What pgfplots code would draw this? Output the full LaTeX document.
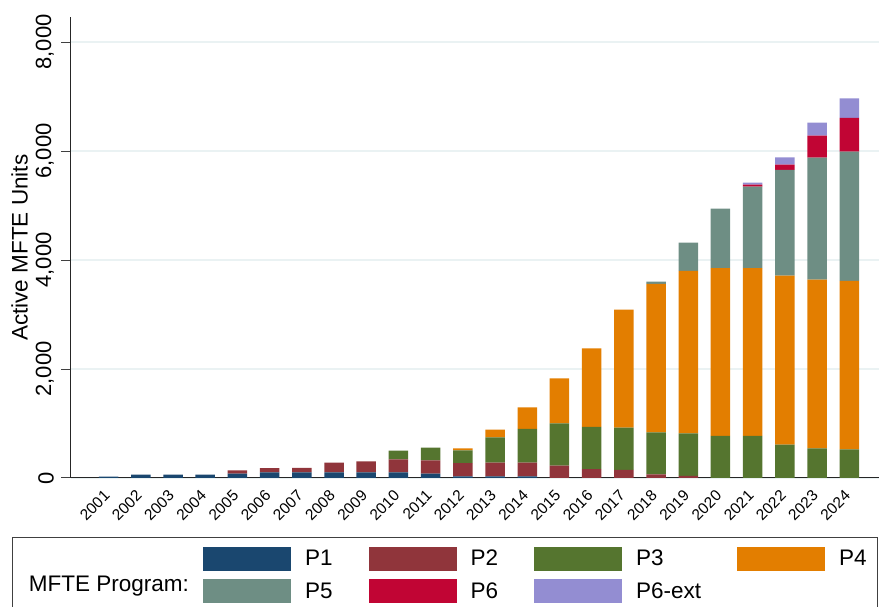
\documentclass[border=0pt]{standalone}
\usepackage{fontspec}
\setmainfont{Liberation Sans}
\usepackage{pgfplots}
\usepackage{pgfplotstable}
\pgfplotsset{compat=1.18}
\definecolor{cP1}{HTML}{1A476F}
\definecolor{cP2}{HTML}{90353B}
\definecolor{cP3}{HTML}{55752F}
\definecolor{cP4}{HTML}{E37E00}
\definecolor{cP5}{HTML}{6E8E84}
\definecolor{cP6}{HTML}{C10534}
\definecolor{cP7}{HTML}{938DD2}
\definecolor{gridc}{HTML}{EAF2F3}
\pgfplotstableread{
year P1 P2 P3 P4 P5 P6 P6ext
2001 25 0 0 0 0 0 0
2002 60 0 0 0 0 0 0
2003 60 0 0 0 0 0 0
2004 60 0 0 0 0 0 0
2005 80 60 0 0 0 0 0
2006 105 75 0 0 0 0 0
2007 105 80 0 0 0 0 0
2008 105 178 0 0 0 0 0
2009 105 200 0 0 0 0 0
2010 105 238 160 0 0 0 0
2011 80 245 233 0 0 0 0
2012 31 244 233 37 0 0 0
2013 30 250 466 141 0 0 0
2014 30 250 620 397 0 0 0
2015 0 227 777 826 0 0 0
2016 0 165 771 1444 0 0 0
2017 0 147 778 2165 0 0 0
2018 0 68 771 2721 44 0 0
2019 0 37 783 2980 520 0 0
2020 0 0 771 3082 1090 0 0
2021 0 0 771 3082 1494 37 37
2022 0 0 613 3101 1938 97 136
2023 0 0 545 3096 2238 404 239
2024 0 0 527 3088 2375 616 361
}\mfte
\begin{document}
\begin{tikzpicture}
\path[use as bounding box] (0pt,0pt) rectangle (879pt,607pt);
\begin{axis}[
  at={(71pt,129pt)}, anchor=south west,
  scale only axis, width=808pt, height=460.5pt,
  ybar stacked, bar width=19.5pt,
  xmin=1999.832, xmax=2024.922,
  ymin=0, ymax=8450,
  axis lines=left,
  axis line style={-, line width=1pt, color=black!85},
  xtick={2001,...,2024},
  ytick={0,2000,4000,6000,8000},
  ymajorgrids, grid style={color=gridc, line width=1.5pt},
  tick align=outside, major tick length=10pt,
  xtick style={draw=none},
  ytick style={line width=1pt, color=black!75},
  /pgf/number format/assume math mode=true,
  xticklabel style={xshift=-1.6pt, yshift=-4.9pt, rotate=45, anchor=east, inner sep=0pt,
    font=\fontsize{15.5}{17}\selectfont, /pgf/number format/1000 sep={}},
  yticklabel style={xshift=-7pt, rotate=90, anchor=south, inner sep=0pt,
    font=\fontsize{22}{24}\selectfont},
  ylabel={Active MFTE Units},
  ylabel style={at={(axis description cs:-0.0637,0.5)}, anchor=center,
    font=\fontsize{22.5}{24}\selectfont},
  legend columns=4,
  legend cell align=left,
  legend image code/.code={\fill[#1] (0pt,-12pt) rectangle (88pt,12pt);},
  legend style={draw=none, fill=none, inner sep=0pt, outer sep=0pt,
    at={(axis description cs:0.16337,-0.14918)}, anchor=north west,
    font=\fontsize{22.5}{24}\selectfont, row sep=8.6pt,
    nodes={inner sep=0pt},
    /tikz/every odd column/.append style={column sep=14pt},
    /tikz/every even column/.append style={column sep=36pt}},
]
\addplot[fill=cP1, draw=none] table[x=year, y=P1]{\mfte};
\addlegendentry{P1}
\addplot[fill=cP2, draw=none] table[x=year, y=P2]{\mfte};
\addlegendentry{P2}
\addplot[fill=cP3, draw=none] table[x=year, y=P3]{\mfte};
\addlegendentry{P3}
\addplot[fill=cP4, draw=none] table[x=year, y=P4]{\mfte};
\addlegendentry{P4}
\addplot[fill=cP5, draw=none] table[x=year, y=P5]{\mfte};
\addlegendentry{P5}
\addplot[fill=cP6, draw=none] table[x=year, y=P6]{\mfte};
\addlegendentry{P6}
\addplot[fill=cP7, draw=none] table[x=year, y=P6ext]{\mfte};
\addlegendentry{P6-ext}
\end{axis}
\draw[line width=1pt, color=black!75] (12pt,-20pt) rectangle (877.7pt,69.7pt);
\node[anchor=base west, inner sep=0pt, font=\fontsize{22.5}{24}\selectfont] at (28.7pt,15.3pt) {MFTE Program:};
\end{tikzpicture}
\end{document}
